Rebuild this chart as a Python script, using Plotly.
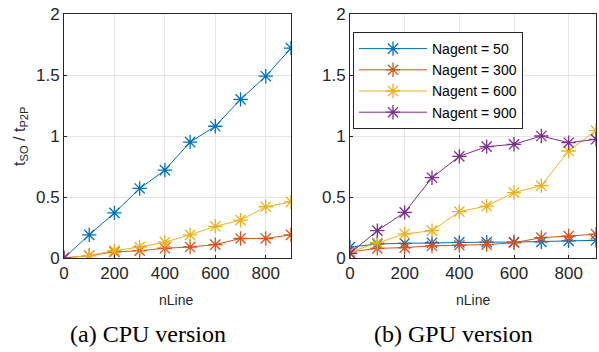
import plotly.graph_objects as go

nline = [0, 100, 200, 300, 400, 500, 600, 700, 800, 900]
names = ["Nagent = 50", "Nagent = 300", "Nagent = 600", "Nagent = 900"]
colors = ["#0072BD", "#D95319", "#EDB120", "#7E2F8E"]

cpu_50 = [0, 0.19, 0.37, 0.57, 0.72, 0.95, 1.08, 1.30, 1.49, 1.72]
cpu_300 = [0, 0.02, 0.05, 0.06, 0.08, 0.09, 0.11, 0.16, 0.16, 0.19]
cpu_600 = [0, 0.02, 0.06, 0.09, 0.13, 0.19, 0.26, 0.31, 0.42, 0.46]
cpu_900 = [0, None, None, None, None, None, None, None, None, None]

gpu_50 = [0.09, 0.115, 0.12, 0.125, 0.128, 0.13, 0.13, 0.132, 0.14, 0.145]
gpu_300 = [0.05, 0.079, 0.085, 0.10, 0.105, 0.11, 0.125, 0.167, 0.18, 0.195]
gpu_600 = [0.05, 0.126, 0.197, 0.224, 0.38, 0.426, 0.536, 0.593, 0.877, 1.044]
gpu_900 = [0.038, 0.224, 0.374, 0.658, 0.833, 0.913, 0.932, 1.0, 0.945, 0.973]

xticks = [0, 200, 400, 600, 800]
yticks = [0, 0.5, 1, 1.5, 2]
ytick_labels = ["0", "0.5", "1", "1.5", "2"]

W, H = 599, 352

fig = go.Figure()
cpu = [cpu_50, cpu_300, cpu_600, cpu_900]
gpu = [gpu_50, gpu_300, gpu_600, gpu_900]
for i in range(4):
    fig.add_trace(go.Scatter(x=nline, y=cpu[i], mode="lines+markers", name=names[i],
                             line=dict(color=colors[i], width=1),
                             marker=dict(symbol="asterisk-open", size=12, color=colors[i],
                                         line=dict(width=1.3, color=colors[i])),
                             xaxis="x", yaxis="y", showlegend=False, connectgaps=False))
for i in range(4):
    fig.add_trace(go.Scatter(x=nline, y=gpu[i], mode="lines+markers", name=names[i],
                             line=dict(color=colors[i], width=1),
                             marker=dict(symbol="asterisk-open", size=12, color=colors[i],
                                         line=dict(width=1.3, color=colors[i])),
                             xaxis="x2", yaxis="y2", showlegend=True))

axis_common = dict(showline=True, linecolor="#262626", linewidth=1, mirror=True,
                   showgrid=True, gridcolor="#e6e6e6", gridwidth=1, zeroline=False,
                   ticks="inside", ticklen=3, tickcolor="#262626", automargin=False,
                   tickfont=dict(family="Liberation Sans, Arial", size=17, color="#262626"))

fig.update_layout(
    width=W, height=H,
    margin=dict(l=0, r=0, t=0, b=0, pad=0, autoexpand=False),
    paper_bgcolor="white", plot_bgcolor="white",
    xaxis=dict(domain=[64 / W, 291 / W], range=[0, 900], tickvals=xticks, anchor="y", **axis_common),
    yaxis=dict(domain=[1 - 258 / H, 1 - 14 / H], range=[0, 2], tickvals=yticks, ticktext=ytick_labels,
               anchor="x", **axis_common),
    xaxis2=dict(domain=[350 / W, 596 / W], range=[0, 900], tickvals=xticks, anchor="y2", **axis_common),
    yaxis2=dict(domain=[1 - 258 / H, 1 - 14 / H], range=[0, 2], tickvals=yticks, ticktext=ytick_labels,
                anchor="x2", **axis_common),
    legend=dict(x=353 / W, y=1 - 32 / H, xanchor="left", yanchor="top",
                bgcolor="white", bordercolor="#262626", borderwidth=1,
                font=dict(family="Liberation Sans, Arial", size=14, color="#000000"),
                tracegroupgap=0, itemwidth=68),
    showlegend=True,
)

ann_font = dict(family="Liberation Sans, Arial", size=14, color="#262626")
fig.add_annotation(text="nLine", x=176 / W, y=1 - 300 / H, xref="paper", yref="paper",
                   xanchor="center", yanchor="middle", showarrow=False, font=ann_font)
fig.add_annotation(text="nLine", x=473 / W, y=1 - 300 / H, xref="paper", yref="paper",
                   xanchor="center", yanchor="middle", showarrow=False, font=ann_font)
fig.add_annotation(text="t<sub>SO</sub> / t<sub>P2P</sub>", x=20 / W, y=1 - 136 / H,
                   xref="paper", yref="paper", xanchor="center", yanchor="middle",
                   showarrow=False, textangle=-90,
                   font=dict(family="Liberation Sans, Arial", size=16, color="#262626"))
cap_font = dict(family="Liberation Serif, Times New Roman", size=24, color="#000000")
fig.add_annotation(text="(a) CPU version", x=148 / W, y=1 - 334 / H, xref="paper", yref="paper",
                   xanchor="center", yanchor="middle", showarrow=False, font=cap_font)
fig.add_annotation(text="(b) GPU version", x=453 / W, y=1 - 334 / H, xref="paper", yref="paper",
                   xanchor="center", yanchor="middle", showarrow=False, font=cap_font)

fig.write_html("out.html", config={"displayModeBar": False},
               post_script="document.body.style.margin='0';document.body.style.overflow='hidden';")
